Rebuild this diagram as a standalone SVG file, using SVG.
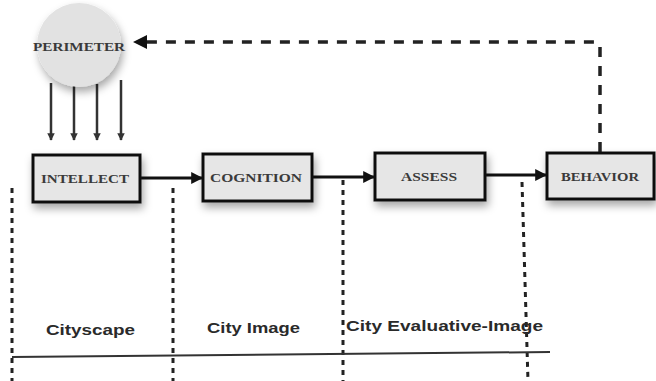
<svg xmlns="http://www.w3.org/2000/svg" width="656" height="381" viewBox="0 0 656 381">
<defs>
<style>
.box{fill:#e6e6e6;stroke:#111;stroke-width:3}
.bt{font-family:"Liberation Serif",serif;font-weight:bold;font-size:13px;fill:#3a3a3a;text-anchor:middle;dominant-baseline:central}
.lab{font-family:"Liberation Sans",Arial,sans-serif;font-weight:bold;font-size:15px;fill:#2a2a2a;dominant-baseline:central}
.flow{stroke:#111;stroke-width:3;fill:none}
.down{stroke:#333;stroke-width:2.5;fill:none}
.vd{stroke:#222;stroke-width:3;stroke-dasharray:5 5;fill:none}
.fb{stroke:#222;stroke-width:3.5;stroke-dasharray:10 9;fill:none}
</style>
<filter id="sh" x="-30%" y="-30%" width="160%" height="170%">
<feDropShadow dx="2" dy="5" stdDeviation="4" flood-color="#000" flood-opacity="0.35"/>
</filter>
<marker id="ah" viewBox="0 0 10 10" refX="9" refY="5" markerWidth="4" markerHeight="4" orient="auto" markerUnits="strokeWidth">
<path d="M0,0 L10,5 L0,10 z" fill="#111"/>
</marker>
<marker id="ad" viewBox="0 0 10 10" refX="9" refY="5" markerWidth="3" markerHeight="3" orient="auto" markerUnits="strokeWidth">
<path d="M0,0 L10,5 L0,10 z" fill="#333"/>
</marker>
</defs>
<g id="connectors">
<line class="down" x1="51" y1="83" x2="51" y2="140" marker-end="url(#ad)"/>
<line class="down" x1="74" y1="86" x2="74" y2="140" marker-end="url(#ad)"/>
<line class="down" x1="97" y1="84" x2="97" y2="140" marker-end="url(#ad)"/>
<line class="down" x1="121" y1="80" x2="121" y2="140" marker-end="url(#ad)"/>
<line class="flow" x1="141" y1="178" x2="202" y2="178" marker-end="url(#ah)"/>
<line class="flow" x1="313" y1="177" x2="374" y2="177" marker-end="url(#ah)"/>
<line class="flow" x1="486" y1="175" x2="546" y2="175" marker-end="url(#ah)"/>
<path class="fb" d="M600,152 V47 Q600,42 595,42 H146"/>
<path d="M133,42 L147,35 L147,49 z" fill="#111"/>
<line class="vd" x1="12" y1="188" x2="12" y2="381"/>
<line class="vd" x1="173" y1="188" x2="173" y2="381"/>
<line class="vd" x1="343" y1="180" x2="343" y2="381"/>
<line class="vd" x1="522" y1="182" x2="528" y2="381"/>
<path d="M12,357 L550,352" stroke="#333" stroke-width="2" fill="none"/>
</g>
<g id="perimeter">
<circle cx="79" cy="45" r="42" fill="#e2e2e2" filter="url(#sh)"/>
<text class="bt" x="79" y="46" textLength="92" lengthAdjust="spacingAndGlyphs">PERIMETER</text>
</g>
<g id="intellect">
<rect class="box" x="33" y="155" width="107" height="47" filter="url(#sh)"/>
<text class="bt" x="85" y="178" textLength="88" lengthAdjust="spacingAndGlyphs">INTELLECT</text>
</g>
<g id="cognition">
<rect class="box" x="203" y="154" width="109" height="47" filter="url(#sh)"/>
<text class="bt" x="256" y="177" textLength="92" lengthAdjust="spacingAndGlyphs">COGNITION</text>
</g>
<g id="assess">
<rect class="box" x="375" y="153" width="110" height="47" filter="url(#sh)"/>
<text class="bt" x="429" y="176" textLength="56" lengthAdjust="spacingAndGlyphs">ASSESS</text>
</g>
<g id="behavior">
<rect class="box" x="547" y="153" width="107" height="46" filter="url(#sh)"/>
<text class="bt" x="600" y="176" textLength="78" lengthAdjust="spacingAndGlyphs">BEHAVIOR</text>
</g>
<g id="labels">
<text class="lab" x="46" y="329" textLength="89" lengthAdjust="spacingAndGlyphs">Cityscape</text>
<text class="lab" x="207" y="327" textLength="93" lengthAdjust="spacingAndGlyphs">City Image</text>
<text class="lab" x="346" y="325" textLength="197" lengthAdjust="spacingAndGlyphs">City Evaluative-Image</text>
</g>
</svg>
